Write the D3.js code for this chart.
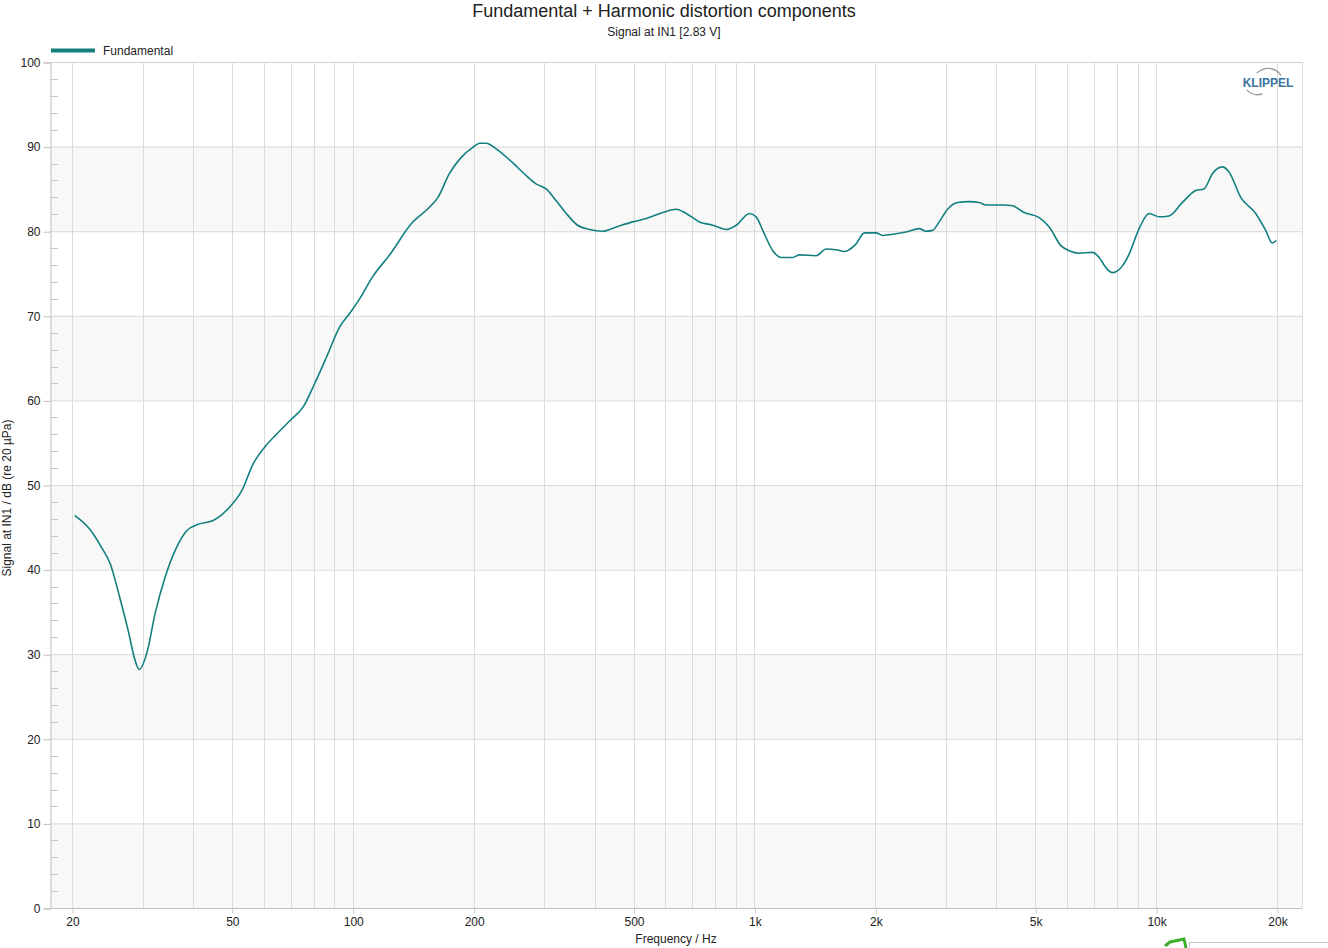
<!DOCTYPE html>
<html><head><meta charset="utf-8">
<script src="https://cdn.jsdelivr.net/npm/d3@7"></script>
<style>
html,body{margin:0;padding:0;background:#fff;}
svg{display:block;font-family:"Liberation Sans",Arial,sans-serif;}
</style></head>
<body><svg id="chart" width="1328" height="948"></svg>
<script>
const title = "Fundamental + Harmonic distortion components";
const subtitle = "Signal at IN1 [2.83 V]";
const seriesName = "Fundamental";
const xLabel = "Frequency / Hz";
const yLabel = "Signal at IN1 / dB (re 20 µPa)";

const freq = [20.3,22.2,23.7,24.9,26.3,27.6,28.7,29.4,30.7,32.2,34.1,36.4,38.6,40.9,44.9,49.4,52.9,56.5,60.4,64.6,70.4,75.2,80.4,86.0,92.8,98.3,104,112,124,140,155,163,174,186,199,207,215,228,246,270,286,303,321,340,363,389,419,453,498,538,591,639,676,730,788,851,901,972,1010,1049,1111,1165,1245,1294,1424,1508,1597,1675,1791,1878,2008,2086,2252,2384,2573,2674,2776,2884,3026,3204,3426,3628,3770,4148,4392,4696,5118,5418,5794,6076,6434,6942,7214,7498,7786,8246,8568,9072,9608,10174,10772,11628,12556,13166,13808,14622,15192,16246,17702,18748,19468,19922];
const level = [46.4,44.7,42.6,40.7,36.7,32.8,29.3,28.2,30.1,34.8,39.1,42.6,44.6,45.3,45.8,47.4,49.3,52.5,54.5,56.0,57.8,59.2,62.0,65.1,68.7,70.3,72.0,74.6,77.3,80.9,82.8,84.0,86.8,88.7,89.9,90.4,90.4,89.7,88.4,86.6,85.6,85.0,83.6,82.1,80.7,80.2,80.0,80.5,81.1,81.5,82.2,82.6,82.1,81.1,80.7,80.2,80.7,82.1,81.7,80.1,77.7,76.9,76.9,77.2,77.1,77.9,77.8,77.6,78.5,79.8,79.8,79.5,79.7,79.9,80.3,80.0,80.1,81.1,82.6,83.4,83.5,83.4,83.1,83.1,83.0,82.2,81.6,80.5,78.3,77.7,77.4,77.5,76.9,75.7,75.1,75.9,77.3,80.3,82.1,81.7,81.8,83.4,84.8,85.0,86.8,87.6,87.0,84.0,82.1,80.1,78.6,78.9];

const xTickValues = [20,50,100,200,500,1000,2000,5000,10000,20000];
const xTickLabels = ["20","50","100","200","500","1k","2k","5k","10k","20k"];
const yTickValues = [0,10,20,30,40,50,60,70,80,90,100];
const gridFreqs = [];
[10,100,1000,10000].forEach(d=>{for(let m=1;m<10;m++){const f=d*m; if(f>=20&&f<=20000) gridFreqs.push(f);}});
gridFreqs.push(20000);
const bands = [[0,10],[20,30],[40,50],[60,70],[80,90]];

const L=50, R=1302, T=62, B=908;
const x = d3.scaleLog().domain([20,20000]).range([72,1277]);
const y = d3.scaleLinear().domain([0,100]).range([B,T]);
const svg = d3.select("#chart");
const col = "#13807f";

// bands
svg.append("g").selectAll("rect").data(bands).join("rect")
  .attr("x",L).attr("width",R-L).attr("y",d=>y(d[1])).attr("height",d=>y(d[0])-y(d[1]))
  .attr("fill","#f8f8f8");
// horizontal grid
svg.append("g").selectAll("line").data(yTickValues).join("line")
  .attr("x1",L).attr("x2",R).attr("y1",d=>y(d)+0.5).attr("y2",d=>y(d)+0.5)
  .attr("stroke","#d9d9d9").attr("stroke-width",1);
// vertical grid
svg.append("g").selectAll("line").data(gridFreqs).join("line")
  .attr("x1",d=>Math.round(x(d))+0.5).attr("x2",d=>Math.round(x(d))+0.5).attr("y1",T).attr("y2",B)
  .attr("stroke","#dcdcdc").attr("stroke-width",1);
// frame
svg.append("line").attr("x1",L).attr("x2",R).attr("y1",T+0.5).attr("y2",T+0.5).attr("stroke","#cfcfcf");
svg.append("line").attr("x1",R+0.5).attr("x2",R+0.5).attr("y1",T).attr("y2",B).attr("stroke","#dcdcdc");

// y axis
const yAxis = d3.axisLeft(y).tickValues(yTickValues).tickSize(7).tickPadding(3);
const gy = svg.append("g").attr("transform",`translate(${L+0.5},0.5)`).call(yAxis);
gy.select(".domain").attr("stroke","#c0c0c0");
gy.selectAll(".tick line").attr("stroke","#c0c0c0");
gy.selectAll(".tick text").attr("font-size","12px").attr("fill","#222").attr("font-family","Liberation Sans, Arial, sans-serif");
// minor y ticks
const minor = d3.range(0,100,2).filter(v=>v%10!==0);
svg.append("g").selectAll("line").data(minor).join("line")
  .attr("x1",L).attr("x2",L+8).attr("y1",d=>Math.round(y(d))+0.5).attr("y2",d=>Math.round(y(d))+0.5)
  .attr("stroke","#c8c8c8");

// x axis
const xAxis = d3.axisBottom(x).tickValues(xTickValues).tickFormat((d,i)=>xTickLabels[i]).tickSize(5).tickPadding(4);
const gx = svg.append("g").attr("transform",`translate(0.5,${B+0.5})`).call(xAxis);
gx.select(".domain").attr("d",`M${L-0.5},0H${R}`).attr("stroke","#c0c0c0");
gx.selectAll(".tick line").attr("stroke","#c8c8c8");
gx.selectAll(".tick text").attr("font-size","12px").attr("fill","#222").attr("font-family","Liberation Sans, Arial, sans-serif");

// curve
const data = freq.map((f,i)=>({f,v:level[i]}));
const line = d3.line().x(d=>x(d.f)).y(d=>y(d.v)).curve(d3.curveMonotoneX);
svg.append("path").datum(data).attr("d",line).attr("fill","none").attr("stroke",col).attr("stroke-width",1.6);

// titles
svg.append("text").attr("x",664).attr("y",17).attr("text-anchor","middle").attr("font-size","18px").attr("fill","#222").text(title);
svg.append("text").attr("x",664).attr("y",35.5).attr("text-anchor","middle").attr("font-size","12px").attr("fill","#222").text(subtitle);
// legend
svg.append("line").attr("x1",51).attr("x2",95).attr("y1",50.5).attr("y2",50.5).attr("stroke",col).attr("stroke-width",4);
svg.append("text").attr("x",103).attr("y",54.5).attr("font-size","12px").attr("fill","#222").text(seriesName);
// axis labels
svg.append("text").attr("x",676).attr("y",943).attr("text-anchor","middle").attr("font-size","12px").attr("fill","#222").text(xLabel);
svg.append("text").attr("transform","translate(11,498) rotate(-90)").attr("text-anchor","middle").attr("font-size","12px").attr("fill","#222").text(yLabel);

// KLIPPEL logo
const lg = svg.append("g");
lg.append("text").attr("x",1268).attr("y",86.5).attr("text-anchor","middle").attr("font-size","12px").attr("font-weight","bold").attr("fill","#3c74a0").text("KLIPPEL");
const arc = d3.arc().innerRadius(15).outerRadius(16.3);
lg.append("path").attr("transform","translate(1268,84)").attr("d",arc({startAngle:-0.8,endAngle:1.0})).attr("fill","#999");
lg.append("path").attr("transform","translate(1258,79)").attr("d",arc({startAngle:Math.PI-0.3,endAngle:Math.PI+0.8})).attr("fill","#999");

// bottom-right screenshot artefact
svg.append("path").attr("d","M1165,946 L1170,942 L1184,939 L1186,948").attr("fill","none").attr("stroke","#3cb02a").attr("stroke-width",3);
svg.append("rect").attr("x",1189.5).attr("y",942.5).attr("width",140).attr("height",10).attr("fill","#fff").attr("stroke","#c8c8c8");
</script></body></html>
